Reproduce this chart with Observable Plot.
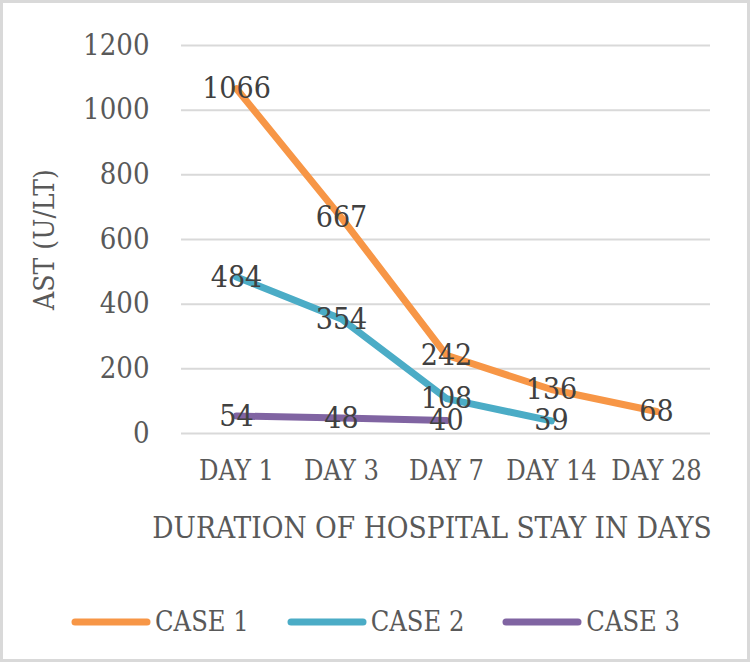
<!DOCTYPE html>
<html>
<head>
<meta charset="utf-8">
<script src="https://cdn.jsdelivr.net/npm/d3@7"></script>
<script src="https://cdn.jsdelivr.net/npm/@observablehq/plot@0.6"></script>
<style>
  body { margin: 0; background: #fff; }
  #frame { width: 750px; height: 662px; box-sizing: border-box; border: 3px solid #d9d9d9; position: relative; overflow: hidden; background: #fff; }
  #chart { position: absolute; left: 0; top: 0; }
  .ff { font-family: "DejaVu Serif Condensed", "DejaVu Serif", serif; font-stretch: condensed; }
  #legend { position: absolute; left: 68px; top: 603px; display: flex; align-items: center; font-size: 27px; line-height: 32px; color: #595959; white-space: nowrap; }
  #legend .item { display: flex; align-items: center; margin-right: 38px; white-space: nowrap; }
  #legend svg { margin-right: 4px; flex: none; }
</style>
</head>
<body>
<div id="frame" class="ff">
  <div id="chart"></div>
  <div id="legend"></div>
</div>
<script>
const days = ["DAY 1", "DAY 3", "DAY 7", "DAY 14", "DAY 28"];
const seriesNames = ["CASE 1", "CASE 2", "CASE 3"];
const seriesColors = ["#F79646", "#4BACC6", "#8064A2"];
const case1 = [1066, 667, 242, 136, 68];
const case2 = [484, 354, 108, 39];
const case3 = [54, 48, 40];
const yTicks = [0, 200, 400, 600, 800, 1000, 1200];
const xTitle = "DURATION OF HOSPITAL STAY IN DAYS";
const yTitle = "AST (U/LT)";

const data = [];
[case1, case2, case3].forEach((vals, i) => {
  vals.forEach((v, j) => data.push({series: seriesNames[i], day: days[j], value: v}));
});

const font = '"DejaVu Serif Condensed", "DejaVu Serif", serif';

const chart = Plot.plot({
  width: 744,
  height: 560,
  marginLeft: 178,
  marginRight: 37,
  marginTop: 42,
  marginBottom: 130,
  style: {fontFamily: font, fontSize: "30px", color: "#595959", background: "#fff", fontStretch: "condensed"},
  x: {type: "point", domain: days, padding: 0.5},
  y: {domain: [0, 1200], ticks: yTicks},
  color: {domain: seriesNames, range: seriesColors},
  marks: [
    Plot.gridY(yTicks, {stroke: "#d9d9d9", strokeOpacity: 1, strokeWidth: 2}),
    Plot.axisY(yTicks, {tickSize: 0, tickPadding: 32, fontSize: 29, fill: "#595959", label: null, tickFormat: d => String(d)}),
    Plot.axisX({tickSize: 0, tickPadding: 27, fontSize: 27, fill: "#595959", label: null}),
    Plot.text([xTitle], {frameAnchor: "bottom", lineAnchor: "middle", dy: 95, dx: -14, fontSize: 29.5, fill: "#595959"}),
    Plot.text([yTitle], {frameAnchor: "left", textAnchor: "middle", lineAnchor: "middle", dx: -136, rotate: -90, fontSize: 28, fill: "#595959"}),
    Plot.line(data, {x: "day", y: "value", z: "series", stroke: "series", strokeWidth: 7, strokeLinecap: "round", strokeLinejoin: "round"}),
    Plot.text(data, {x: "day", y: "value", text: d => String(d.value), fontSize: 30, fill: "#404040"})
  ]
});
document.getElementById("chart").appendChild(chart);

const legend = document.getElementById("legend");
seriesNames.forEach((name, i) => {
  const item = document.createElement("div");
  item.className = "item";
  item.innerHTML = `<svg width="80" height="12"><line x1="4" y1="6" x2="76" y2="6" stroke="${seriesColors[i]}" stroke-width="7" stroke-linecap="round"/></svg><span>${name}</span>`;
  legend.appendChild(item);
});
</script>
</body>
</html>
